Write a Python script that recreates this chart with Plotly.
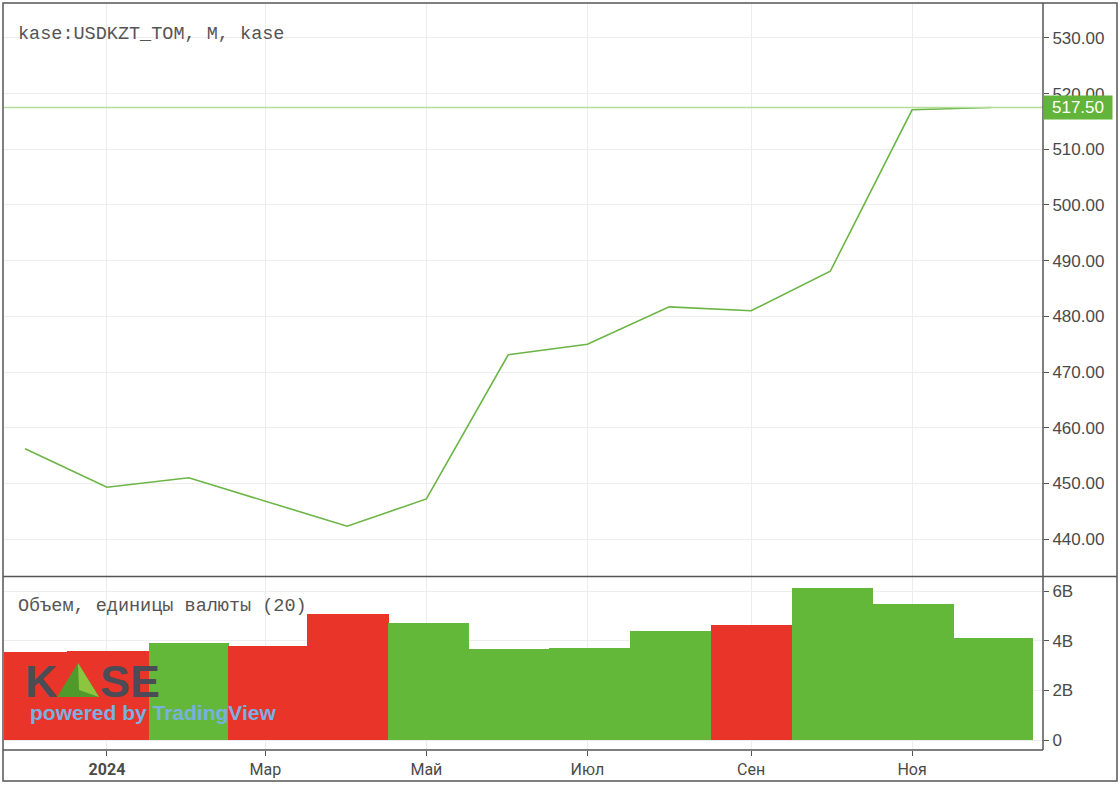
import plotly.graph_objects as go
import pandas as pd

# ---------------- data ----------------
months = ["2023-12-01", "2024-01-01", "2024-02-01", "2024-03-01", "2024-04-01",
          "2024-05-01", "2024-06-01", "2024-07-01", "2024-08-01", "2024-09-01",
          "2024-10-01", "2024-11-01", "2024-12-01"]
close = [456.2, 449.3, 451.0, 446.8, 442.3, 447.2, 473.1, 475.0, 481.7, 481.0,
         488.1, 517.1, 517.5]
volume_b = [3.56, 3.60, 3.92, 3.80, 5.08, 4.72, 3.68, 3.72, 4.40, 4.64, 6.12, 5.48, 4.12]
direction = ["down", "down", "up", "down", "down", "up", "up", "up", "up", "down",
             "up", "up", "up"]
last_price = 517.50
price_ticks = [440, 450, 460, 470, 480, 490, 500, 510, 520, 530]
vol_ticks_b = [0, 2, 4, 6]
vol_tick_text = ["0", "2B", "4B", "6B"]
x_tick_dates = ["2024-01-01", "2024-03-01", "2024-05-01", "2024-07-01", "2024-09-01", "2024-11-01"]
x_tick_text = ["<b>2024</b>", "Мар", "Май", "Июл", "Сен", "Ноя"]
header = "kase:USDKZT_TOM, M, kase"
vol_label = "Объем, единицы валюты (20)"

# ---------------- styling ----------------
W, H = 1120, 785
ML, MR, MT, MB = 4, 77, 4, 35
PW, PH = W - ML - MR, H - MT - MB
GREEN = "#63b83a"
RED = "#e9342a"
LINE_GREEN = "#6bb545"
FRAME = "#555555"
GRID = "#ededed"
TXT = "#4a4a4a"


def px(x):
    return (x - ML) / PW


def py(y):
    return (H - MB - y) / PH


vol = [v * 1e9 for v in volume_b]
colors = [GREEN if d == "up" else RED for d in direction]

# bar extents: each bar spans from midpoint with previous month to midpoint with next
t = pd.to_datetime(pd.Series(months))
ms = (t.astype("int64") // 10**6).tolist()
day = 24 * 3600 * 1000
gaps = [ms[i + 1] - ms[i] for i in range(len(ms) - 1)]
left_half = [gaps[0] / 2] + [g / 2 for g in gaps]
right_half = [g / 2 for g in gaps] + [gaps[-1] / 2]
pad = 0.15 * day
shift = 0.6 * day
offsets = [-(lh + pad) + shift for lh in left_half]
widths = [lh + rh + 2 * pad for lh, rh in zip(left_half, right_half)]

fig = go.Figure()
fig.add_trace(go.Scatter(x=months, y=close, mode="lines",
                         line=dict(color=LINE_GREEN, width=1.6),
                         xaxis="x", yaxis="y", showlegend=False, hoverinfo="skip"))
fig.add_trace(go.Bar(x=months, y=vol, marker=dict(color=colors, line=dict(width=0)),
                     width=widths, offset=offsets, xaxis="x2", yaxis="y2",
                     showlegend=False, hoverinfo="skip"))

xrange = ["2023-11-23", "2024-12-20 14:00"]
vol_top = 577
price_bottom = 576

fig.update_layout(
    width=W, height=H,
    margin=dict(l=ML, r=MR, t=MT, b=MB),
    paper_bgcolor="white", plot_bgcolor="white",
    bargap=0,
    xaxis=dict(domain=[0, 1], anchor="y", range=xrange, type="date",
               showticklabels=False, showgrid=True, gridcolor=GRID, gridwidth=1,
               tickvals=x_tick_dates, ticks="", zeroline=False, showline=False,
               matches="x2"),
    yaxis=dict(domain=[py(price_bottom), 1], anchor="x", side="right",
               range=[433.36, 536.1], tickvals=price_ticks, tickformat=".2f",
               ticks="outside", ticklen=5, tickcolor=FRAME,
               showgrid=True, gridcolor=GRID, zeroline=False, showline=False,
               tickfont=dict(family="Liberation Sans, Arial", size=17, color=TXT)),
    xaxis2=dict(domain=[0, 1], anchor="y2", range=xrange, type="date",
                tickvals=x_tick_dates, ticktext=x_tick_text,
                ticks="outside", ticklen=5, tickcolor=FRAME,
                showgrid=True, gridcolor=GRID, zeroline=False, showline=False,
                tickfont=dict(family="Roboto, Arial", size=16, color=TXT)),
    yaxis2=dict(domain=[0, py(vol_top)], anchor="x2", side="right",
                range=[-0.40e9, 6.565e9], tickvals=[v * 1e9 for v in vol_ticks_b],
                ticktext=vol_tick_text, ticks="outside", ticklen=5, tickcolor=FRAME,
                showgrid=True, gridcolor=GRID, zeroline=False, showline=False,
                tickfont=dict(family="Liberation Sans, Arial", size=17, color=TXT)),
)

shapes = []
# last price line
shapes.append(dict(type="line", xref="paper", yref="y", x0=0, x1=1, y0=last_price, y1=last_price,
                   line=dict(color="#b3df9a", width=1.5), layer="above"))
# frames
shapes.append(dict(type="rect", xref="paper", yref="paper", x0=px(3), x1=px(1117),
                   y0=py(781), y1=py(3), line=dict(color=FRAME, width=1.5)))
shapes.append(dict(type="line", xref="paper", yref="paper", x0=px(3), x1=px(1117),
                   y0=py(576.5), y1=py(576.5), line=dict(color=FRAME, width=1.5)))
shapes.append(dict(type="line", xref="paper", yref="paper", x0=px(3), x1=px(1043),
                   y0=py(750), y1=py(750), line=dict(color=FRAME, width=1.5)))
shapes.append(dict(type="line", xref="paper", yref="paper", x0=px(1043), x1=px(1043),
                   y0=py(750), y1=py(3), line=dict(color=FRAME, width=1.5)))
# KASE logo triangle
shapes.append(dict(type="path", xref="paper", yref="paper",
                   path=f"M {px(57)} {py(697)} L {px(78)} {py(663)} L {px(99)} {py(697)} Z",
                   fillcolor="#4f9a2a", line=dict(width=0)))
shapes.append(dict(type="path", xref="paper", yref="paper",
                   path=f"M {px(78)} {py(663)} L {px(99)} {py(697)} L {px(79)} {py(690)} Z",
                   fillcolor="#8cc63f", line=dict(width=0)))
fig.update_layout(shapes=shapes)

annotations = [
    dict(text=header, xref="paper", yref="paper", x=px(16), y=py(34), xanchor="left",
         yanchor="middle", showarrow=False,
         font=dict(family="Liberation Mono", size=18.5, color="#555555")),
    dict(text=vol_label, xref="paper", yref="paper", x=px(16), y=py(606), xanchor="left",
         yanchor="middle", showarrow=False,
         font=dict(family="Liberation Mono", size=18.5, color="#555555")),
    dict(text=f"{last_price:.2f}", xref="paper", yref="y", x=1, y=last_price,
         xanchor="left", yanchor="middle", showarrow=False, bgcolor="#62b43b",
         width=66, height=21, borderpad=1,
         font=dict(family="Liberation Sans, Arial", size=17, color="white")),
    dict(text="<b>K</b>", xref="paper", yref="paper", x=px(23), y=py(681), xanchor="left",
         yanchor="middle", showarrow=False,
         font=dict(family="Liberation Sans, Arial", size=45, color="#4b4c55")),
    dict(text="<b>SE</b>", xref="paper", yref="paper", x=px(98), y=py(681), xanchor="left",
         yanchor="middle", showarrow=False,
         font=dict(family="Liberation Sans, Arial", size=45, color="#4b4c55")),
    dict(text="<b>powered by TradingView</b>", xref="paper", yref="paper", x=px(28),
         y=py(712), xanchor="left", yanchor="middle", showarrow=False,
         font=dict(family="Liberation Sans, Arial", size=21, color="#7ab0e0")),
]
fig.update_layout(annotations=annotations)

fig.write_html("out.html")
